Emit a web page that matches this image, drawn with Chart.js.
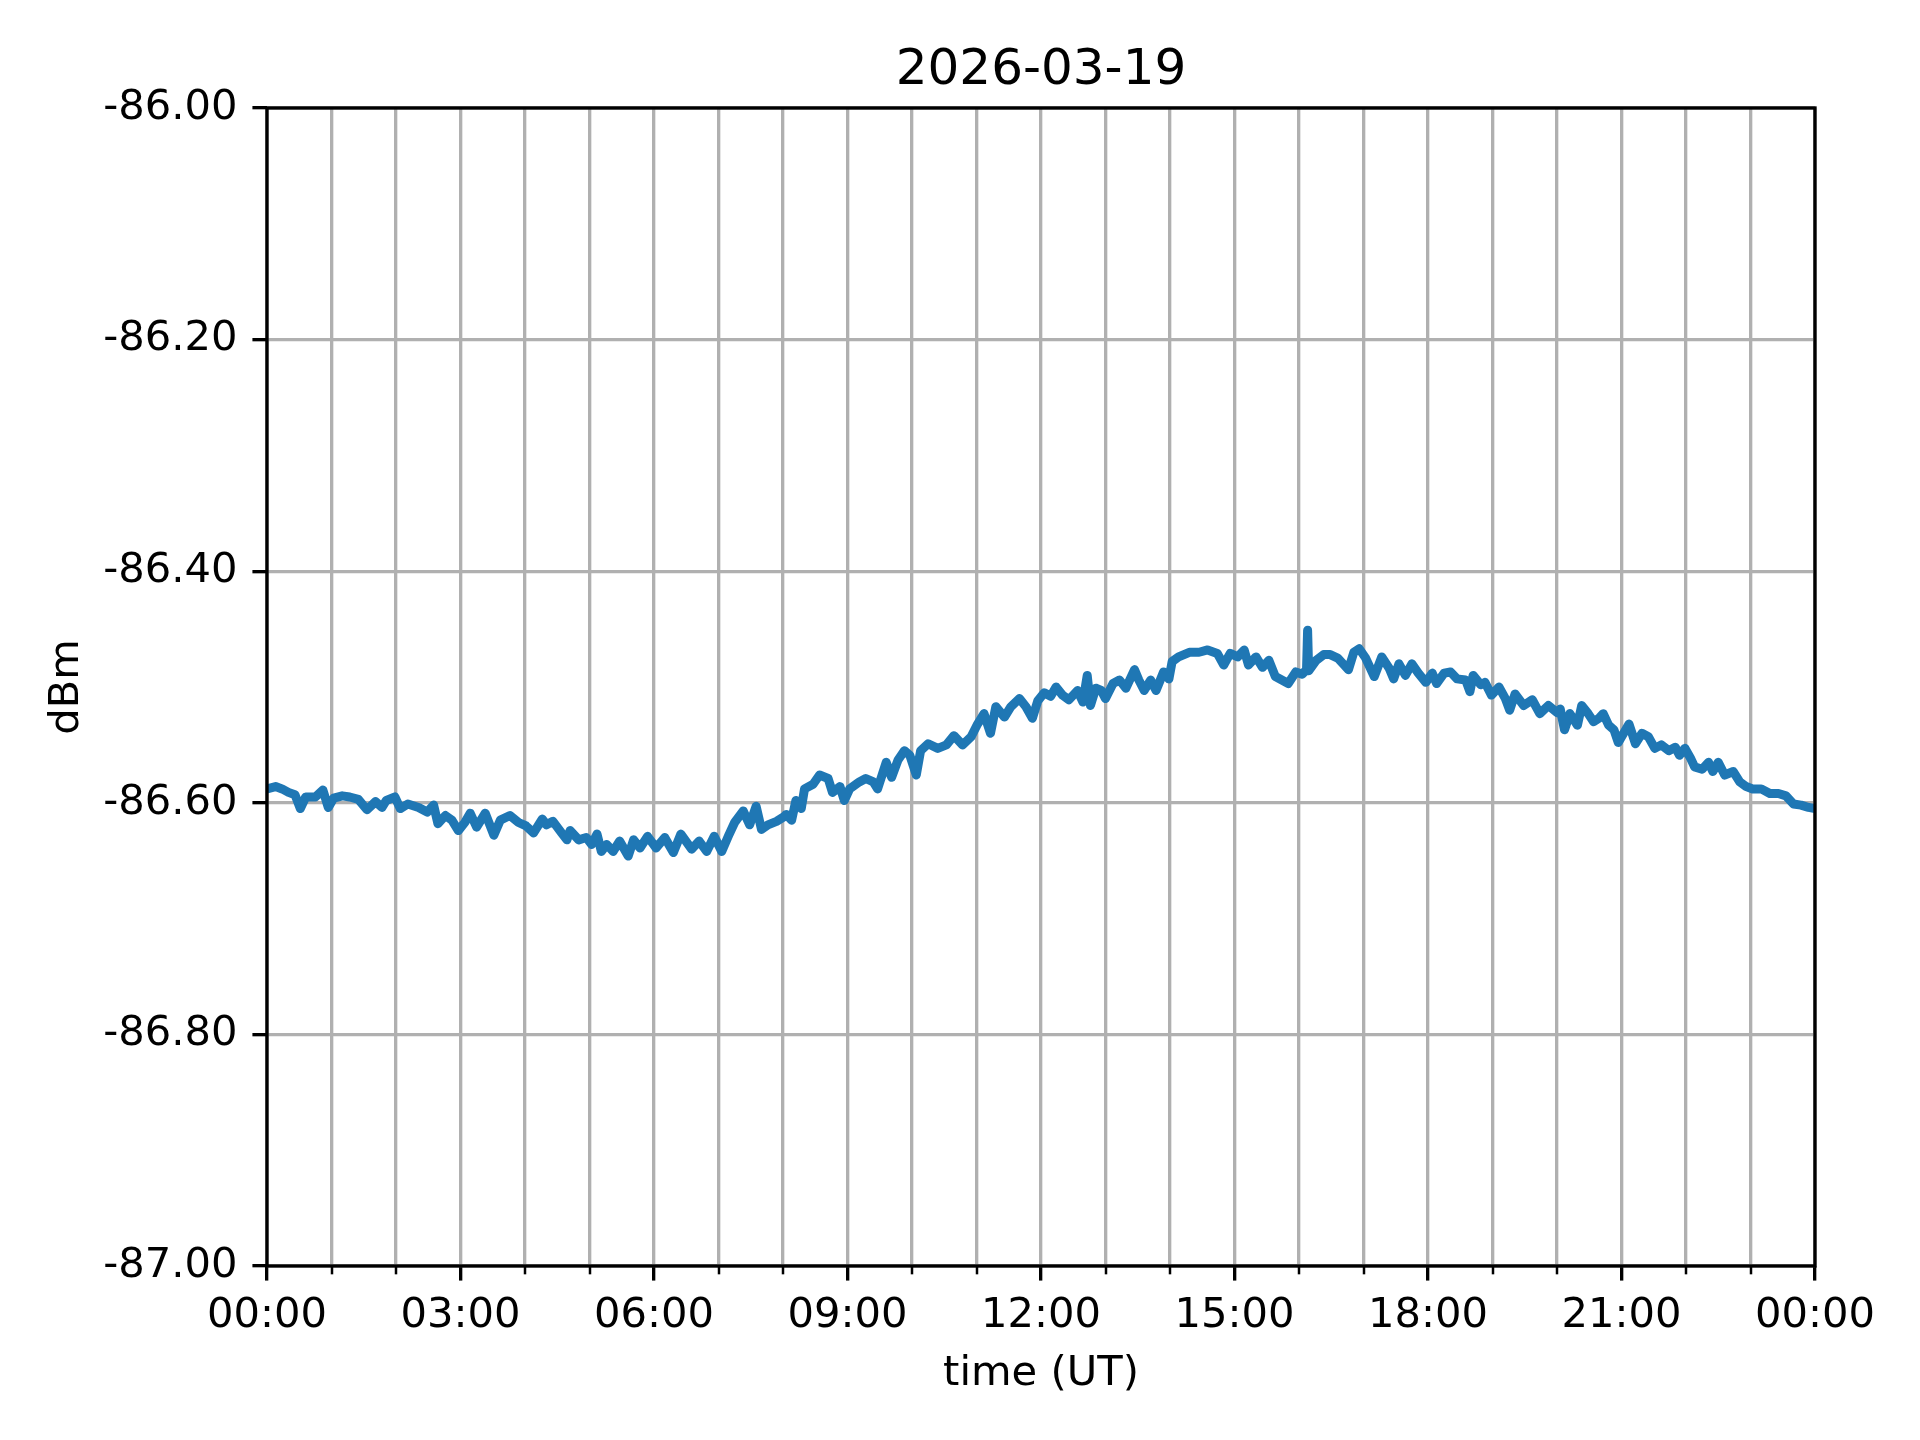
<!DOCTYPE html>
<html>
<head>
<meta charset="utf-8">
<script src="https://cdn.jsdelivr.net/npm/chart.js@4.4.1/dist/chart.umd.min.js"></script>
<style>
  html, body { margin: 0; padding: 0; background: #ffffff; }
  #wrap { width: 1920px; height: 1440px; }
</style>
</head>
<body>
<div id="wrap"><canvas id="c" width="1920" height="1440"></canvas></div>
<script>
// ---- data ----
const chartTitle = "2026-03-19";
const xAxisTitle = "time (UT)";
const yAxisTitle = "dBm";
const xTickLabels = ["00:00","03:00","06:00","09:00","12:00","15:00","18:00","21:00","00:00"];
const yTickValues = [-87.0, -86.8, -86.6, -86.4, -86.2, -86.0];

// minutes since 00:00 UT
const timeMinutes = [
  0,8,14,20,26,31,36,45,52,57,62,70,77,85,93,101,107,111,119,124,131,141,149,155,159,166,172,178,184,189,195,203,211,217,226,234,241,
  248,256,260,266,274,279,282,290,297,302,307,311,316,322,328,336,341,347,354,362,370,378,385,395,402,409,416,423,430,435,443,449,455,460,466,474,481,
  483,488,492,497,500,508,514,522,526,533,537,542,551,557,564,568,576,581,587,593,598,604,608,615,624,632,639,647,655,661,667,673,678,686,692,700,706,712,717,723,
  729,734,740,746,754,759,763,766,771,776,780,787,793,799,807,811,816,822,827,834,839,842,848,858,867,875,884,890,896,903,909,913,920,926,932,938,944,950,957,963,
  967,968,969,976,983,989,996,1002,1006,1011,1016,1022,1030,1037,1044,1048,1053,1059,1065,1071,1078,1084,1088,1095,1101,1107,1115,1119,1122,1129,1133,1139,1146,1152,1156,1161,1169,1177,1184,1192,1200,
  1203,1207,1212,1219,1223,1229,1234,1239,1243,1248,1253,1257,1262,1267,1273,1279,1285,1291,1297,1304,1310,1314,1319,1324,1328,1335,1341,1345,1350,1356,1364,1370,1376,1382,1390,1398,1406,1413,1420,1427,1434,1440
];
const dBm = [
  -86.588,-86.586,-86.588,-86.591,-86.593,-86.605,-86.595,-86.595,-86.589,-86.604,-86.596,-86.594,-86.595,-86.597,-86.606,-86.599,-86.604,-86.598,-86.595,-86.605,-86.601,-86.604,-86.608,-86.602,-86.618,-86.611,-86.615,-86.624,-86.617,-86.609,-86.621,-86.609,-86.628,-86.615,-86.611,-86.617,-86.620,
  -86.626,-86.614,-86.619,-86.616,-86.626,-86.632,-86.624,-86.632,-86.630,-86.636,-86.627,-86.642,-86.636,-86.642,-86.633,-86.646,-86.632,-86.639,-86.629,-86.639,-86.630,-86.643,-86.627,-86.640,-86.633,-86.642,-86.629,-86.642,-86.627,-86.617,-86.607,-86.619,-86.603,-86.623,-86.619,-86.616,-86.612,
  -86.610,-86.615,-86.598,-86.605,-86.588,-86.584,-86.576,-86.579,-86.591,-86.586,-86.598,-86.588,-86.582,-86.579,-86.582,-86.588,-86.565,-86.578,-86.563,-86.555,-86.559,-86.576,-86.555,-86.549,-86.553,-86.550,-86.542,-86.550,-86.543,-86.532,-86.523,-86.540,-86.517,-86.526,-86.517,-86.510,-86.517,-86.527,-86.512,-86.505,
  -86.508,-86.500,-86.507,-86.511,-86.503,-86.513,-86.490,-86.516,-86.501,-86.503,-86.510,-86.497,-86.494,-86.501,-86.485,-86.494,-86.503,-86.494,-86.503,-86.487,-86.493,-86.478,-86.474,-86.470,-86.470,-86.468,-86.471,-86.481,-86.471,-86.474,-86.468,-86.481,-86.474,-86.483,-86.477,-86.491,-86.494,-86.497,-86.487,-86.489,
  -86.485,-86.451,-86.486,-86.477,-86.472,-86.472,-86.475,-86.481,-86.485,-86.470,-86.467,-86.475,-86.491,-86.474,-86.484,-86.493,-86.480,-86.490,-86.480,-86.488,-86.496,-86.488,-86.497,-86.488,-86.487,-86.493,-86.494,-86.504,-86.490,-86.498,-86.496,-86.507,-86.500,-86.510,-86.520,-86.506,-86.516,-86.511,-86.523,-86.516,-86.522,
  -86.519,-86.537,-86.523,-86.533,-86.516,-86.523,-86.530,-86.527,-86.523,-86.533,-86.537,-86.548,-86.540,-86.532,-86.549,-86.540,-86.543,-86.553,-86.550,-86.555,-86.552,-86.559,-86.553,-86.561,-86.569,-86.571,-86.565,-86.573,-86.565,-86.576,-86.573,-86.582,-86.586,-86.588,-86.588,-86.592,-86.592,-86.594,-86.601,-86.602,-86.604,-86.605
];

// ---- styling ----
const PT = 300 / 72;           // px per point
const FONT = "'DejaVu Sans', 'Liberation Sans', sans-serif";
const GRID = '#b0b0b0';
const LINE = '#1f77b4';

const points = timeMinutes.map((t, i) => ({ x: t, y: dBm[i] }));

// spines (frame) drawn over the data, like matplotlib
const framePlugin = {
  id: 'frame',
  afterDatasetsDraw(chart) {
    const { ctx, chartArea: a } = chart;
    ctx.save();
    ctx.strokeStyle = '#000';
    ctx.lineWidth = 0.8 * PT;
    ctx.lineJoin = 'miter';
    ctx.strokeRect(a.left, a.top, a.right - a.left, a.bottom - a.top);
    ctx.restore();
  }
};

// minor tick marks on the x axis (each hour not labelled)
const minorTicksPlugin = {
  id: 'minorTicks',
  afterDraw(chart) {
    const xs = chart.scales.x;
    const { ctx, chartArea: a } = chart;
    ctx.save();
    ctx.strokeStyle = '#000';
    ctx.lineWidth = 0.6 * PT;
    xs.ticks.forEach(t => {
      if (t.value % 180 !== 0) {
        const px = Math.round(xs.getPixelForValue(t.value));
        ctx.beginPath();
        ctx.moveTo(px, a.bottom);
        ctx.lineTo(px, a.bottom + 2 * PT);
        ctx.stroke();
      }
    });
    ctx.restore();
  }
};

new Chart(document.getElementById('c'), {
  type: 'line',
  data: {
    datasets: [{
      data: points,
      borderColor: LINE,
      backgroundColor: LINE,
      borderWidth: 9,
      pointRadius: 0,
      tension: 0,
      fill: false,
      borderJoinStyle: 'round',
      borderCapStyle: 'round'
    }]
  },
  options: {
    responsive: false,
    animation: false,
    devicePixelRatio: 1,
    layout: { padding: { left: 0, right: 105, top: 0, bottom: 0 } },
    plugins: {
      legend: { display: false },
      tooltip: { enabled: false },
      title: {
        display: true,
        fullSize: false,
        text: chartTitle,
        color: '#000',
        font: { family: FONT, size: 12 * PT, weight: 'normal', lineHeight: 1.2 },
        padding: { top: 41, bottom: 7 }
      }
    },
    scales: {
      x: {
        type: 'linear',
        min: 0,
        max: 1440,
        afterFit(s) { s.height = 174; },
        ticks: {
          stepSize: 60,
          autoSkip: false,
          maxRotation: 0,
          padding: 11,
          color: '#000',
          font: { family: FONT, size: 10 * PT, lineHeight: 1.2 },
          callback: (v) => (v % 180 === 0 ? xTickLabels[v / 180] : '')
        },
        grid: {
          color: GRID,
          lineWidth: 0.8 * PT,
          drawTicks: true,
          tickLength: 3.5 * PT,
          tickWidth: 0.8 * PT,
          tickColor: (ctx) => (ctx.tick && ctx.tick.value % 180 === 0 ? '#000' : 'rgba(0,0,0,0)')
        },
        border: { display: false },
        title: {
          display: true,
          text: xAxisTitle,
          color: '#000',
          font: { family: FONT, size: 10 * PT, lineHeight: 1.2 },
          padding: { top: 0, bottom: 41 }
        }
      },
      y: {
        type: 'linear',
        min: -87,
        max: -86,
        afterFit(s) { s.width = 267; },
        afterBuildTicks(s) { s.ticks = yTickValues.map(v => ({ value: v })); },
        ticks: {
          padding: 15,
          color: '#000',
          font: { family: FONT, size: 10 * PT, lineHeight: 1.2 },
          callback: (v) => Number(v).toFixed(2)
        },
        grid: {
          color: GRID,
          lineWidth: 0.8 * PT,
          drawTicks: true,
          tickLength: 3.5 * PT,
          tickWidth: 0.8 * PT,
          tickColor: '#000'
        },
        border: { display: false },
        title: {
          display: true,
          text: yAxisTitle,
          color: '#000',
          font: { family: FONT, size: 10 * PT, lineHeight: 1.2 },
          padding: { top: 42, bottom: 0 }
        }
      }
    }
  },
  plugins: [framePlugin, minorTicksPlugin]
});
</script>
</body>
</html>
